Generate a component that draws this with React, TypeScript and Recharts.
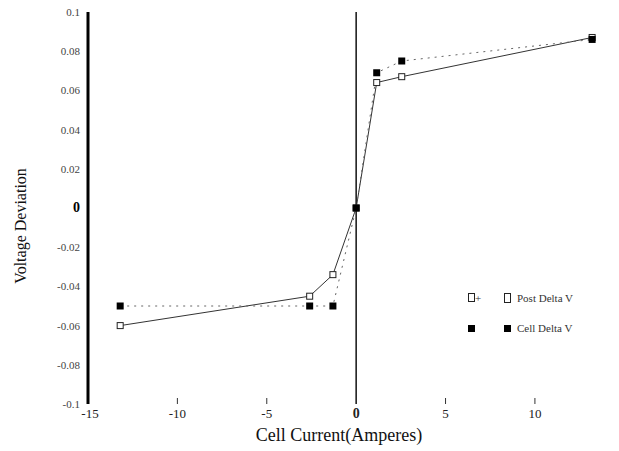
import { ComposedChart, Line, XAxis, YAxis, ReferenceLine } from 'recharts';

const currents = [-13.2, -2.6, -1.3, 0, 1.15, 2.55, 13.2];
const postDeltaV = [-0.06, -0.045, -0.034, 0, 0.064, 0.067, 0.087];
const cellDeltaV = [-0.05, -0.05, -0.05, 0, 0.069, 0.075, 0.086];

const xTicks = [-15, -10, -5, 0, 5, 10];
const yTicks = [-0.1, -0.08, -0.06, -0.04, -0.02, 0, 0.02, 0.04, 0.06, 0.08, 0.1];

const data = currents.map((x, i) => ({ x, post: postDeltaV[i], cell: cellDeltaV[i] }));

function OpenSquare(props: any) {
  const { cx, cy } = props;
  if (cx == null || cy == null) return null;
  return <rect x={cx - 3} y={cy - 3} width={6} height={6} fill="#fff" stroke="#222" strokeWidth={1} />;
}

function FilledSquare(props: any) {
  const { cx, cy } = props;
  if (cx == null || cy == null) return null;
  return <rect x={cx - 3.5} y={cy - 3.5} width={7} height={7} fill="#000" />;
}

function XTick(props: any) {
  const { x, y, payload } = props;
  const v = payload.value;
  return (
    <g>
      {v !== -15 && v !== 0 && <line x1={x} y1={y - 14} x2={x} y2={y - 8} stroke="#333" strokeWidth={1} />}
      <text
        x={x + (v === -15 ? 2 : 0)}
        y={y + 6}
        textAnchor="middle"
        fontFamily="'Liberation Serif', serif"
        fontSize={v === 0 ? 14 : 13}
        fontWeight={v === 0 ? 700 : 400}
        fill="#222"
      >
        {v}
      </text>
    </g>
  );
}

function YTick(props: any) {
  const { x, y, payload } = props;
  const v = payload.value;
  return (
    <text
      x={x}
      y={y}
      dy={4}
      textAnchor="end"
      fontFamily="'Liberation Serif', serif"
      fontSize={v === 0 ? 14 : 11}
      fontWeight={v === 0 ? 700 : 400}
      fill={v === 0 ? '#000' : '#444'}
    >
      {v === 0 ? '0' : String(v)}
    </text>
  );
}

// y axis title, a bit below the middle of the plot as in the scan
function YTitle(props: any) {
  const { viewBox } = props;
  const cx = viewBox.x + 20;
  const cy = viewBox.y + viewBox.height / 2 + 18;
  return (
    <text
      x={cx}
      y={cy}
      transform={`rotate(-90 ${cx} ${cy})`}
      textAnchor="middle"
      dominantBaseline="central"
      fontFamily="'Liberation Serif', serif"
      fontSize={16}
      fill="#111"
    >
      Voltage Deviation
    </text>
  );
}

function ChartLegend() {
  const row = { display: 'flex', alignItems: 'center', height: 30 } as const;
  return (
    <div
      style={{
        position: 'absolute',
        left: 468,
        top: 283,
        width: 150,
        fontFamily: "'Liberation Serif', serif",
        fontSize: 11,
        color: '#333',
      }}
    >
      <div style={row}>
        <span style={{ width: 36 }}>
          <span style={{ display: 'inline-block', width: 5, height: 7, border: '1px solid #222' }} />+
        </span>
        <span style={{ display: 'inline-block', width: 5, height: 8, border: '1px solid #222', marginRight: 6 }} />
        <span>Post Delta V</span>
      </div>
      <div style={row}>
        <span style={{ width: 36 }}>
          <span style={{ display: 'inline-block', width: 7, height: 7, background: '#000' }} />
        </span>
        <span style={{ display: 'inline-block', width: 7, height: 7, background: '#000', marginRight: 6 }} />
        <span>Cell Delta V</span>
      </div>
    </div>
  );
}

export default function App() {
  return (
    <div style={{ position: 'absolute', left: 0, top: 0, width: 619, height: 451, background: '#fff' }}>
      <ComposedChart width={619} height={451} data={data} margin={{ top: 12, right: 9, left: 0, bottom: 17 }}>
        <XAxis
          type="number"
          dataKey="x"
          domain={[-15, 14.2]}
          ticks={xTicks}
          tick={<XTick />}
          tickLine={false}
          axisLine={false}
          allowDataOverflow
          height={30}
          label={{
            value: 'Cell Current(Amperes)',
            position: 'bottom',
            offset: -6,
            dx: -10,
            fontFamily: "'Liberation Serif', serif",
            fontSize: 18,
            fill: '#111',
          }}
        />
        <YAxis
          type="number"
          domain={[-0.1, 0.1]}
          ticks={yTicks}
          width={88}
          tick={<YTick />}
          tickLine={false}
          axisLine={{ stroke: '#000', strokeWidth: 3 }}
          label={<YTitle />}
        />
        <ReferenceLine x={0} stroke="#111" strokeWidth={1.5} />
        <Line
          dataKey="post"
          name="Post Delta V"
          stroke="#333"
          strokeWidth={1}
          dot={<OpenSquare />}
          isAnimationActive={false}
        />
        <Line
          dataKey="cell"
          name="Cell Delta V"
          stroke="#666"
          strokeWidth={1}
          strokeDasharray="2 5"
          dot={<FilledSquare />}
          isAnimationActive={false}
        />
      </ComposedChart>
      <ChartLegend />
    </div>
  );
}
